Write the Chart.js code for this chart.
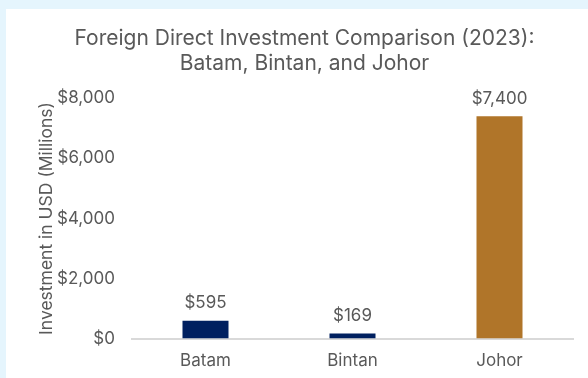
<!DOCTYPE html>
<html>
<head>
<meta charset="utf-8">
<script src="https://cdn.jsdelivr.net/npm/chart.js@4.4.0/dist/chart.umd.min.js"></script>
<style>
  html, body { margin: 0; padding: 0; background: #e5f5fd; }
  #panel { position: absolute; left: 6px; top: 9px; width: 582px; height: 369px; background: #fff; overflow: hidden; }
  #wrap { position: relative; width: 582px; height: 374px; }
</style>
</head>
<body>
<div id="panel"><div id="wrap"><canvas id="fdiChart"></canvas></div></div>
<script>
const regions = ["Batam", "Bintan", "Johor"];
const investment = [595, 169, 7400];
const barColors = ["#002060", "#002060", "#b07529"];
const yTicks = [0, 2000, 4000, 6000, 8000];

const money = v => "$" + v.toLocaleString("en-US");
const textGrey = "#595959";
const fontFamily = "Inter";

// value labels above each bar
const barLabels = {
  id: "barLabels",
  afterDatasetsDraw(chart) {
    const ctx = chart.ctx;
    const meta = chart.getDatasetMeta(0);
    ctx.save();
    ctx.font = "17px " + fontFamily;
    ctx.fillStyle = textGrey;
    ctx.textAlign = "center";
    ctx.textBaseline = "bottom";
    meta.data.forEach((bar, i) => {
      ctx.fillText(money(investment[i]), bar.x, bar.y - 9);
    });
    ctx.restore();
  }
};

const ctx = document.getElementById("fdiChart").getContext("2d");

new Chart(ctx, {
  type: "bar",
  data: {
    labels: regions,
    datasets: [{
      data: investment,
      backgroundColor: barColors,
      barPercentage: 0.626,
      categoryPercentage: 0.5
    }]
  },
  options: {
    responsive: true,
    maintainAspectRatio: false,
    animation: false,
    layout: { padding: { left: 30, right: 15, top: 0, bottom: 0 } },
    plugins: {
      legend: { display: false },
      tooltip: { enabled: false },
      title: {
        display: true,
        text: ["Foreign Direct Investment Comparison (2023):", "Batam, Bintan, and Johor"],
        color: textGrey,
        font: { family: fontFamily, size: 21, weight: "normal", lineHeight: 1.15 },
        padding: { top: 18, bottom: 23 }
      }
    },
    scales: {
      x: {
        grid: { display: false, drawTicks: false },
        border: { color: "#d9d9d9", width: 2 },
        ticks: { color: textGrey, font: { family: fontFamily, size: 17 }, padding: 12 }
      },
      y: {
        min: 0,
        max: 8000,
        afterBuildTicks: axis => { axis.ticks = yTicks.map(v => ({ value: v })); },
        afterFit: axis => { axis.width = 96; },
        grid: { display: false, drawTicks: false },
        border: { display: false },
        ticks: {
          color: textGrey,
          font: { family: fontFamily, size: 17 },
          padding: 17,
          callback: v => money(v)
        },
        title: {
          display: true,
          text: "Investment in USD (Millions)",
          color: textGrey,
          font: { family: fontFamily, size: 17.5 },
          padding: { top: 0, bottom: 2 }
        }
      }
    }
  },
  plugins: [barLabels]
});
</script>
</body>
</html>
